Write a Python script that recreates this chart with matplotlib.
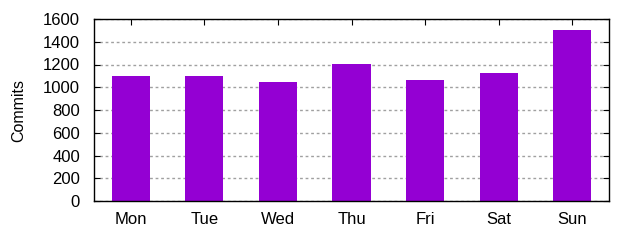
import matplotlib
matplotlib.use('Agg')
import matplotlib.pyplot as plt
import numpy as np

days = ['Mon', 'Tue', 'Wed', 'Thu', 'Fri', 'Sat', 'Sun']
commits = [1100, 1100, 1050, 1205, 1065, 1125, 1500]

plt.rcParams['font.family'] = ['Liberation Sans', 'DejaVu Sans']
plt.rcParams['font.size'] = 12

fig = plt.figure(figsize=(6.4, 2.4), dpi=100)
ax = fig.add_axes([94 / 640, 39 / 240, 515 / 640, 182 / 240])

x = np.arange(len(days))
ax.bar(x, commits, width=0.52, color='#9400d3', zorder=2)

ax.set_xlim(-0.5, 6.5)
ax.set_ylim(0, 1600)
ax.set_yticks(range(0, 1601, 200))
ax.set_xticks(x)
ax.set_xticklabels(days)
ax.yaxis.grid(True, linestyle=(0, (2, 2)), color='#a0a0a0', linewidth=1, zorder=1)
ax.tick_params(direction='in', top=True, right=True, length=4, color='black', labelcolor='black')
ax.tick_params(axis='x', pad=8)
ax.tick_params(axis='y', pad=10)
for s in ax.spines.values():
    s.set_linewidth(1)
ax.set_ylabel('Commits', fontsize=11.5, labelpad=12)

fig.savefig('out.png', dpi=100)
